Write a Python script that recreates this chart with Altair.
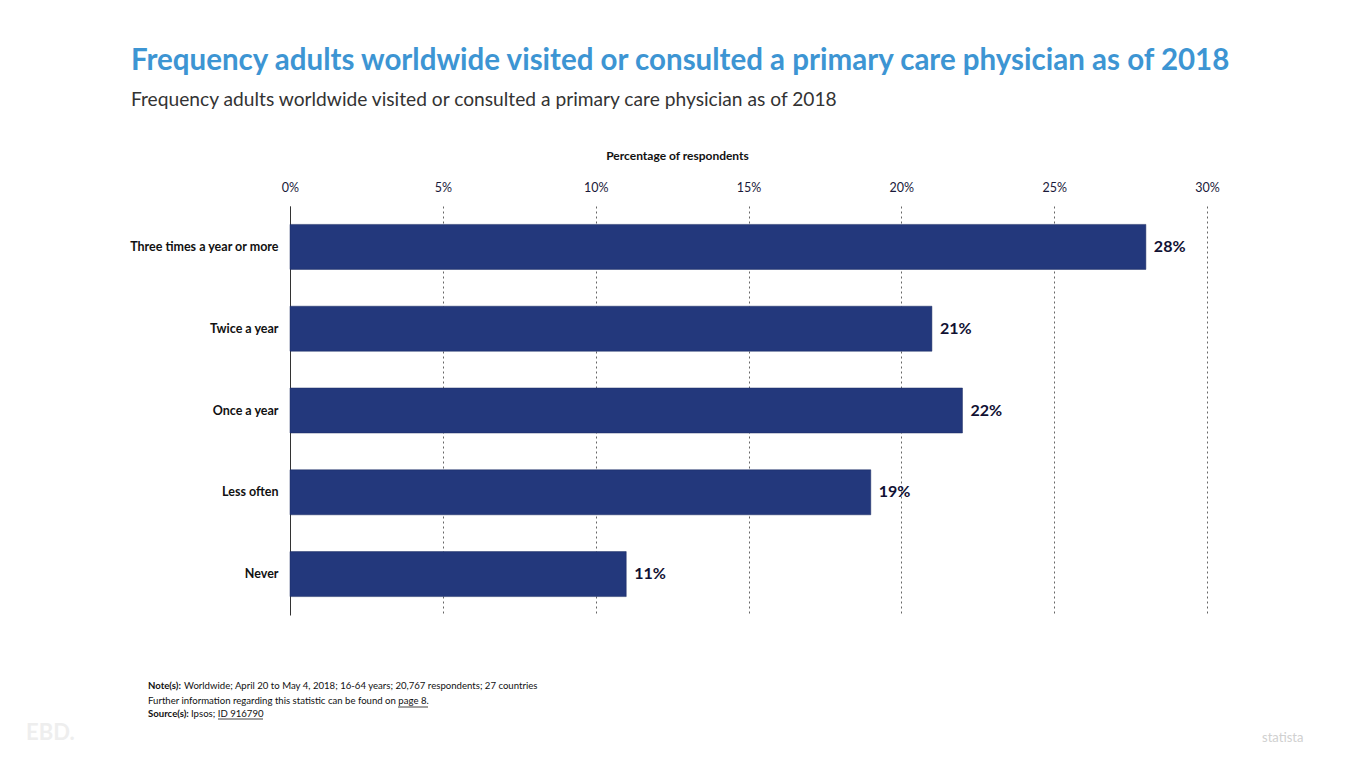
import altair as alt
import pandas as pd

categories = ["Three times a year or more", "Twice a year", "Once a year", "Less often", "Never"]
values = [28, 21, 22, 19, 11]
x_ticks = [0, 5, 10, 15, 20, 25, 30]

title_text = "Frequency adults worldwide visited or consulted a primary care physician as of 2018"
subtitle_text = "Frequency adults worldwide visited or consulted a primary care physician as of 2018"
axis_title = "Percentage of respondents"
note_bold = "Note(s):"
note_text = "Worldwide; April 20 to May 4, 2018; 16-64 years; 20,767 respondents; 27 countries"
info_text = "Further information regarding this statistic can be found on page 8."
source_bold = "Source(s):"
source_text = "Ipsos; ID 916790"

df = pd.DataFrame({"category": categories, "value": values,
                   "label": [f"{v}%" for v in values]})

FONT = "Lato"
W, H = 917, 409
ox, oy = 290, 206

x = alt.X("value:Q", scale=alt.Scale(domain=[0, 30], nice=False),
          axis=alt.Axis(orient="top", values=x_ticks, labelExpr="datum.value + '%'",
                        title=axis_title, titleFontWeight="bold", titleFontSize=12,
                        titleColor="#111111", titleFont=FONT, titleX=677 - ox, titleY=-44,
                        labelFont=FONT, labelFontSize=12.5, labelColor="#1a1a3a",
                        labelPadding=12, labelFlush=False, domain=False, ticks=False,
                        grid=True, gridDash=[2, 3], gridColor="#666666", gridWidth=1))
y = alt.Y("category:N", sort=categories, scale=alt.Scale(paddingInner=0.45, paddingOuter=0.225),
          axis=alt.Axis(title=None, labelFont=FONT, labelFontSize=12.5, labelFontWeight="bold",
                        labelColor="#111111", labelPadding=12, ticks=False,
                        domain=True, domainColor="#333333", domainWidth=1, grid=False))

bars = alt.Chart(df).mark_bar(color="#23387c", stroke="#1a2a60", strokeWidth=0.5).encode(x=x, y=y)
labels = alt.Chart(df).mark_text(align="left", baseline="middle", dx=8, font=FONT,
                                 fontSize=16, fontWeight="bold", color="#111133").encode(
    x="value:Q", y=alt.Y("category:N", sort=categories), text="label:N")

one = pd.DataFrame({"a": [0]})

def txt(s, xv, yv, **kw):
    return alt.Chart(one).mark_text(align="left", baseline="alphabetic", font=FONT, **kw).encode(
        x=alt.value(xv - ox), y=alt.value(yv - oy), text=alt.value(s))

def uline(x1, x2, yv):
    return alt.Chart(one).mark_rule(color="#111111", strokeWidth=0.8).encode(
        x=alt.value(x1 - ox), x2=alt.value(x2 - ox), y=alt.value(yv - oy))

annots = [
    txt(title_text, 131, 70, fontSize=29.5, fontWeight="bold", color="#3d95d3"),
    txt(subtitle_text, 131, 106, fontSize=19.2, color="#333333"),
    txt(note_bold, 148, 689, fontSize=9.6, fontWeight="bold", color="#111111"),
    txt(note_text, 184, 689, fontSize=9.6, color="#111111"),
    txt(info_text, 148, 704, fontSize=9.6, color="#111111"),
    txt(source_bold, 148, 717, fontSize=9.6, fontWeight="bold", color="#111111"),
    txt(source_text, 191, 717, fontSize=9.6, color="#111111"),
    uline(398, 428, 707),
    uline(218, 263, 719),
    txt("statista", 1262, 742, fontSize=13, color="#d0d0d0"),
    txt("EBD.", 26, 740, fontSize=22, fontWeight="bold", color="#eeeeee"),
]

chart = alt.layer(bars, labels, *annots).properties(
    width=W, height=H,
    autosize=alt.AutoSizeParams(type="none"),
    padding={"left": 282, "top": 198, "right": 150, "bottom": 145},
    background="white",
).configure_view(stroke=None)

chart.save("out.html", embed_options={"renderer": "svg", "actions": False})
